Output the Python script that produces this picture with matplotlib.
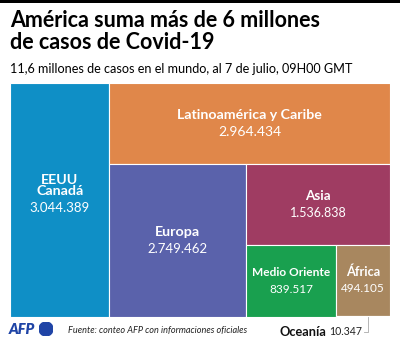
import matplotlib
import matplotlib.pyplot as plt
from matplotlib.patches import Rectangle, Circle

matplotlib.use('Agg')
plt.rcParams['font.family'] = ['Lato', 'DejaVu Sans']

regions = ["EEUU\nCanadá", "Latinoamérica y Caribe", "Europa", "Asia",
           "Medio Oriente", "África", "Oceanía"]
cases = [3044389, 2964434, 2749462, 1536838, 839517, 494105, 10347]
colors = ["#0f8fc6", "#e0874a", "#5a62ab", "#9f3c62", "#19a04f", "#a8875f", "#5a5a5a"]
name_sizes = [10.3, 10.2, 10.3, 9.7, 8.6, 9.2, 0]
value_sizes = [9.5, 10, 9.5, 9, 8.5, 8.5, 0]


def fmt(n):
    return f"{n:,}".replace(",", ".")


# slice-and-dice: each region takes its share of what is left,
# cutting alternately from the left and from the top
rects = []
x0, y0, w, h = 0.0, 0.0, 1.0, 1.0
left_total = sum(cases)
for i, v in enumerate(cases):
    share = v / left_total
    if i == len(cases) - 1:
        rects.append((x0, y0, w, h))
    elif i % 2 == 0:
        rects.append((x0, y0, w * share, h))
        x0 += w * share
        w -= w * share
    else:
        rects.append((x0, y0 + h * (1 - share), w, h * share))
        h -= h * share
    left_total -= v

fig = plt.figure(figsize=(4, 3.4), dpi=100)
fig.patch.set_facecolor('white')

# black strip across the top
fig.add_artist(Rectangle((0, 337 / 340), 1, 3 / 340, transform=fig.transFigure,
                         color='black', lw=0))

fig.text(10 / 400, 1 - 10 / 340, "América suma más de 6 millones\nde casos de Covid-19",
         fontsize=15.5, fontweight='bold', va='top', ha='left', linespacing=1.08)
fig.text(10 / 400, 1 - 69 / 340, "11,6 millones de casos en el mundo, al 7 de julio, 09H00 GMT",
         fontsize=9.1, va='center', ha='left')

ax = fig.add_axes([10 / 400, 23 / 340, 380 / 400, 234 / 340])
ax.set_xlim(0, 1)
ax.set_ylim(0, 1)
ax.axis('off')

for i, (name, v) in enumerate(zip(regions, cases)):
    rx, ry, rw, rh = rects[i]
    ax.add_patch(Rectangle((rx, ry), rw, rh, facecolor=colors[i],
                           edgecolor='white', lw=0.8))
    if name_sizes[i] == 0:
        continue
    cx, cy = rx + rw / 2, ry + rh / 2
    nlines = name.count("\n") + 1
    ax.annotate(name, (cx, cy), xytext=(0, 6 + 4.5 * (nlines - 1)),
                textcoords='offset points', ha='center', va='center',
                color='white', fontsize=name_sizes[i], fontweight='bold',
                linespacing=0.95)
    ax.annotate(fmt(v), (cx, cy), xytext=(0, -6),
                textcoords='offset points', ha='center', va='center',
                color='white', fontsize=value_sizes[i])

# Oceanía is too thin to hold a label: leader line below the box
ox, oy, ow, oh = rects[-1]
lx = ox + ow * 0.6
ly = -0.062
ax.plot([lx, lx, lx - 0.012], [oy, ly, ly], color='#aaaaaa', lw=0.6,
        clip_on=False)
val = ax.annotate(fmt(cases[-1]), (lx - 0.016, ly), ha='right', va='center',
                  fontsize=7.6, color='#222222', annotation_clip=False)
fig.canvas.draw()
val_w = val.get_window_extent().width * 72 / fig.dpi
ax.annotate("Oceanía", (lx - 0.016, ly), xytext=(-val_w - 2.5, 0),
            textcoords='offset points', ha='right', va='center',
            fontsize=9.2, fontweight='bold', color='#111111', annotation_clip=False)

# footer
fig.text(9 / 400, 10 / 340, "AFP", fontsize=10.5, fontweight='heavy', fontstyle='italic',
         color='#1f44a6', va='center', ha='left')
logo = fig.add_axes([39 / 400, 4 / 340, 14 / 400, 14 / 340])
logo.add_patch(Circle((0.5, 0.5), 0.5, color='#1f44a6'))
logo.set_xlim(0, 1)
logo.set_ylim(0, 1)
logo.axis('off')
fig.text(68 / 400, 9 / 340, "Fuente: conteo AFP con informaciones oficiales",
         fontsize=6.6, fontstyle='italic', color='#222222', va='center', ha='left')

fig.savefig('out.png', dpi=100)
